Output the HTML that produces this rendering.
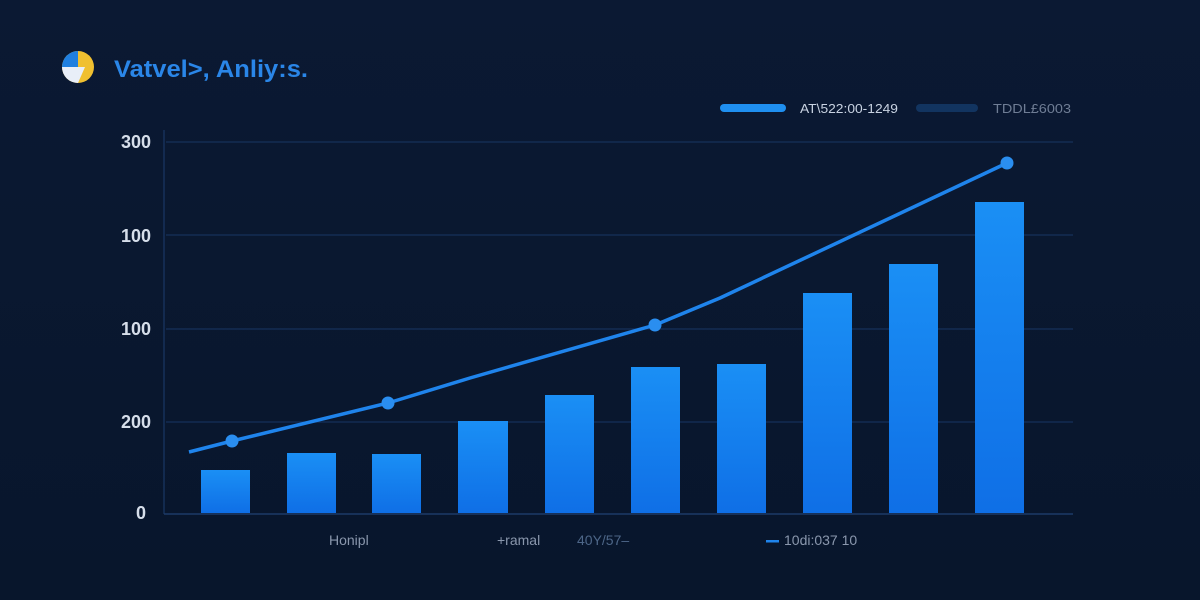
<!DOCTYPE html>
<html><head><meta charset="utf-8"><style>
html,body{margin:0;padding:0;background:#0a1830;}
svg{display:block}
text{font-family:"Liberation Sans",sans-serif}
</style></head><body>
<svg width="1200" height="600" xmlns="http://www.w3.org/2000/svg">
<defs>
<linearGradient id="bg" x1="0" y1="0" x2="0" y2="1"><stop offset="0" stop-color="#0b1933"/><stop offset="1" stop-color="#08162c"/></linearGradient>
<linearGradient id="bar" x1="0" y1="0" x2="0" y2="1"><stop offset="0" stop-color="#1a8ff5"/><stop offset="1" stop-color="#0f6fe6"/></linearGradient>
</defs>
<rect width="1200" height="600" fill="url(#bg)"/>
<circle cx="78" cy="67" r="16" fill="#f0c030"/>
<path d="M78 51 A16 16 0 0 0 62 67 L78 67 Z" fill="#1f7fe0"/>
<path d="M62 67 A16 16 0 0 0 78 83 L85 67 Z" fill="#e8eef8"/>
<text x="114" y="77" font-size="24" font-weight="bold" fill="#2a86e8" textLength="194" lengthAdjust="spacingAndGlyphs">Vatvel˃, Anliy:s.</text>
<rect x="720" y="104" width="66" height="8" rx="4" fill="#1f8ff0"/>
<text x="800" y="113" font-size="13" fill="#c8d2e2" textLength="98" lengthAdjust="spacingAndGlyphs">AT\522:00-1249</text>
<rect x="916" y="104" width="62" height="8" rx="4" fill="#123460"/>
<text x="993" y="113" font-size="13" fill="#6f7d95" textLength="78" lengthAdjust="spacingAndGlyphs">TDDL£6003</text>
<g stroke="#16305a" stroke-width="1.2">
<line x1="166" y1="142" x2="1073" y2="142"/>
<line x1="166" y1="235" x2="1073" y2="235"/>
<line x1="166" y1="329" x2="1073" y2="329"/>
<line x1="166" y1="422" x2="1073" y2="422"/>
</g>
<line x1="164" y1="130" x2="164" y2="514" stroke="#16305a" stroke-width="1.5"/>
<line x1="164" y1="514" x2="1073" y2="514" stroke="#1c3a68" stroke-width="1.5"/>
<g font-size="18" font-weight="bold" fill="#d6deea" text-anchor="end">
<text x="151" y="148">300</text>
<text x="151" y="242">100</text>
<text x="151" y="335">100</text>
<text x="151" y="428">200</text>
<text x="146" y="519">0</text>
</g>
<g fill="url(#bar)">
<rect x="201" y="470" width="49" height="43"/>
<rect x="287" y="453" width="49" height="60"/>
<rect x="372" y="454" width="49" height="59"/>
<rect x="458" y="421" width="50" height="92"/>
<rect x="545" y="395" width="49" height="118"/>
<rect x="631" y="367" width="49" height="146"/>
<rect x="717" y="364" width="49" height="149"/>
<rect x="803" y="293" width="49" height="220"/>
<rect x="889" y="264" width="49" height="249"/>
<rect x="975" y="202" width="49" height="311"/>
</g>
<polyline points="189,452 232,441 388,403 470,378 655,325 720,298 1007,163" fill="none" stroke="#1f84ec" stroke-width="3.5" stroke-linejoin="round"/>
<g fill="#2a8ef0">
<circle cx="232" cy="441" r="6.5"/>
<circle cx="388" cy="403" r="6.5"/>
<circle cx="655" cy="325" r="6.5"/>
<circle cx="1007" cy="163" r="6.5"/>
</g>
<g font-size="14" fill="#8a97ad">
<text x="329" y="545">Honipl</text>
<text x="497" y="545">+ramal</text>
<text x="577" y="545" fill="#4d6688">40Y/57–</text>
<text x="784" y="545">10di:037 10</text>
</g>
<rect x="766" y="540" width="13" height="2.5" fill="#1f84ec"/>
</svg>
</body></html>
